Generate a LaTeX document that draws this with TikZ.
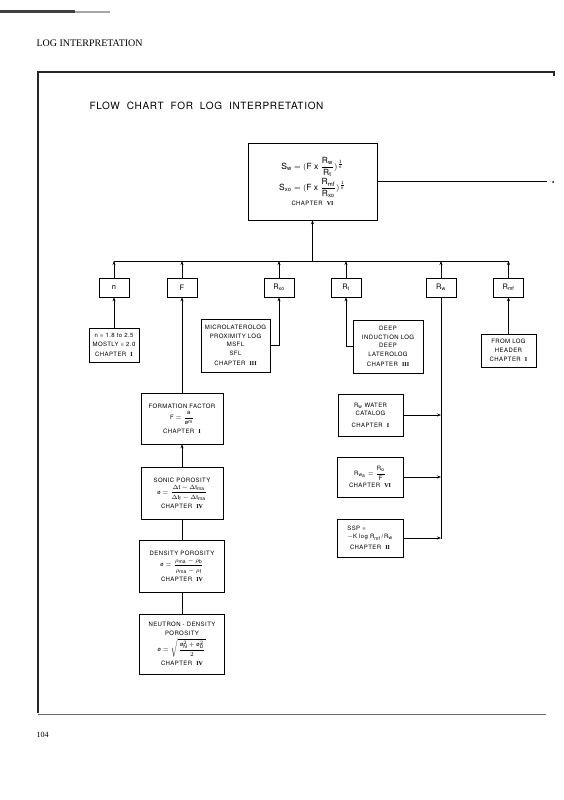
\documentclass[tikz,border=0pt]{standalone}
\usepackage{amsmath}
\usepackage{fontspec}
\setmainfont{TeX Gyre Heros}
\newfontfamily\seriffont{Liberation Serif}
\newfontfamily\spacedfont[LetterSpace=7]{TeX Gyre Heros}
\usetikzlibrary{arrows.meta}
\newcommand\chapnum[1]{CHAPTER\ \ {\seriffont\bfseries #1}}
\newcommand\rmm[1]{\mathrm{#1}}
\begin{document}
\begin{tikzpicture}[x=1pt,y=-1pt,
  box/.style={draw, line width=0.6pt, inner sep=1pt, align=center,
    font=\spacedfont\fontsize{6}{8.5}\selectfont},
  sbox/.style={draw, line width=0.6pt, inner sep=1pt, minimum width=30pt,
    minimum height=19pt, font=\fontsize{7.5}{9}\selectfont},
  arr/.style={-{Stealth[length=4pt,width=3pt]}, line width=0.6pt},
  ln/.style={line width=0.6pt},
  frame/.style={line width=2.8pt, black!85}]
\useasboundingbox[fill=white] (0,0) rectangle (564,800);

% page decorations
\draw[line width=3pt, black!75] (0,12) -- (75,12);
\draw[line width=1.5pt, black!35] (75,12) -- (110,12);
\node[anchor=west, font=\seriffont\fontsize{10}{12}\selectfont] (hdr) at (33,43) {LOG INTERPRETATION};
\draw[frame] (38,713) -- (38,72) -- (554,72) -- (554,76);
\draw[line width=0.8pt, black!60] (38,714) -- (546,714);
\node[anchor=west, font=\seriffont\fontsize{8}{10}\selectfont] (pg) at (33,735) {104};

\node[anchor=west, font=\spacedfont\fontsize{10}{12}\selectfont] (title) at (86,106)
  {FLOW\ \ CHART\ \ FOR\ \ LOG\ \ INTERPRETATION};

% top box
\node[box, minimum width=129pt, minimum height=77pt, font=\fontsize{8.5}{10}\selectfont] (top) at (312.5,181.5)
  {$\rmm{S_w} = (\rmm{F\ x\ }\dfrac{\rmm{R_w}}{\rmm{R_t}})^{\frac{1}{\rmm{n}}}$\\[1pt]
   $\rmm{S_{xo}} = (\rmm{F\ x\ }\dfrac{\rmm{R_{mf}}}{\rmm{R_{xo}}})^{\frac{1}{\rmm{n}}}$\\[3pt]
   {\spacedfont\fontsize{6}{8}\selectfont\chapnum{VI}}};
\coordinate (rend) at (547,181.5);
\draw[line width=1.3pt] (top.east) -- (rend);
\fill (553,182) circle (1pt);

% bus
\coordinate (busL) at (114,261);
\coordinate (busR) at (508.5,261);
\draw[ln] (busL) -- (busR);
\draw[arr] (top.south |- busL) -- (top.south);

% small boxes
\node[sbox] (nb)   at (114,287.5)   {n};
\node[sbox] (fb)   at (182,287.5)   {F};
\node[sbox] (rxo)  at (279,287.5)   {R$_{\rmm{xo}}$};
\node[sbox] (rt)   at (346,287.5)   {R$_{\rmm{t}}$};
\node[sbox] (rw)   at (441,287.5)   {R$_{\rmm{w}}$};
\node[sbox] (rmf)  at (508.5,287.5) {R$_{\rmm{mf}}$};
\foreach \b in {nb,fb,rxo,rt,rw,rmf}
  \draw[arr] (\b.north) -- (\b.north |- busL);

% second row
\node[box, minimum width=50pt, minimum height=34pt] (ndet) at (114,345)
  {n = 1.8 to 2.5\\MOSTLY = 2.0\\[2pt]\chapnum{I}};
\node[box, minimum width=69pt, minimum height=53pt] (micro) at (235.5,345.5)
  {MICROLATEROLOG\\PROXIMITY LOG\\MSFL\\SFL\\[2pt]\chapnum{III}};
\node[box, minimum width=70pt, minimum height=53pt] (deep) at (388,346.5)
  {DEEP\\INDUCTION LOG\\DEEP\\LATEROLOG\\[2pt]\chapnum{III}};
\node[box, minimum width=55pt, minimum height=33pt] (flh) at (508.5,350.5)
  {FROM LOG\\HEADER\\[1pt]\chapnum{I}};
\draw[arr] (ndet.north) -- (nb.south);
\draw[arr] (micro.east) -| (rxo.south);
\draw[arr] (deep.west) -| (rt.south);
\draw[arr] (flh.north) -- (rmf.south);

% F chain
\node[box, minimum width=82pt, minimum height=51pt] (ff) at (182,418.5)
  {FORMATION FACTOR\\[3pt]
   $\rmm{F} = \dfrac{\rmm{a}}{\text{ø}^{\rmm{m}}}$\\[3pt]\chapnum{I}};
\node[box, minimum width=82pt, minimum height=52pt] (sonic) at (182,493)
  {SONIC POROSITY\\[2pt]
   $\text{ø} = \dfrac{\Delta\rmm{t}-\Delta\rmm{t_{ma}}}{\Delta\rmm{t_f}-\Delta\rmm{t_{ma}}}$\\[2pt]\chapnum{IV}};
\node[box, minimum width=85pt, minimum height=52pt] (dens) at (182,566)
  {DENSITY POROSITY\\[2pt]
   $\text{ø} = \dfrac{\rho_{\rmm{ma}}-\rho_{\rmm{b}}}{\rho_{\rmm{ma}}-\rho_{\rmm{f}}}$\\[2pt]\chapnum{IV}};
\node[box, minimum width=85pt, minimum height=60pt] (neut) at (182,644)
  {NEUTRON - DENSITY\\POROSITY\\[3pt]
   $\text{ø} = \sqrt{\,\dfrac{\text{ø}_{\rmm{N}}^{2}+\text{ø}_{\rmm{D}}^{2}}{2}\,}$\\[3pt]\chapnum{IV}};
\draw[arr] (ff.north) -- (fb.south);
\draw[arr] (sonic.north) -- (ff.south);
\draw[ln] (dens.north) -- (sonic.south);
\draw[ln] (neut.north) -- (dens.south);

% Rw chain
\coordinate (rwend) at (441,539);
\draw[ln] (rw.south) -- (rwend);
\node[box, minimum width=65pt, minimum height=42pt] (wc) at (370.5,415)
  {R$_{\rmm{w}}$ WATER\\CATALOG\\[3pt]\chapnum{I}};
\node[box, minimum width=66pt, minimum height=40pt] (rwa) at (370,477)
  {$\rmm{R_{w_a}} = \dfrac{\rmm{R_o}}{\rmm{F}}$\\[2pt]\chapnum{VI}};
\node[box, minimum width=66pt, minimum height=38pt] (ssp) at (370,538)
  {\begin{tabular}{@{}l@{}}SSP =\\$-$K log R$_{\rmm{mf}}$\,/\,R$_{\rmm{w}}$\\[2pt]
   \multicolumn{1}{@{}c@{}}{\chapnum{II}}\end{tabular}};
\draw[arr] (wc.east) -- (wc.east -| rwend);
\draw[arr] (rwa.east) -- (rwa.east -| rwend);
\draw[arr] (ssp.east) -- (ssp.east -| rwend);
\end{tikzpicture}
\end{document}
